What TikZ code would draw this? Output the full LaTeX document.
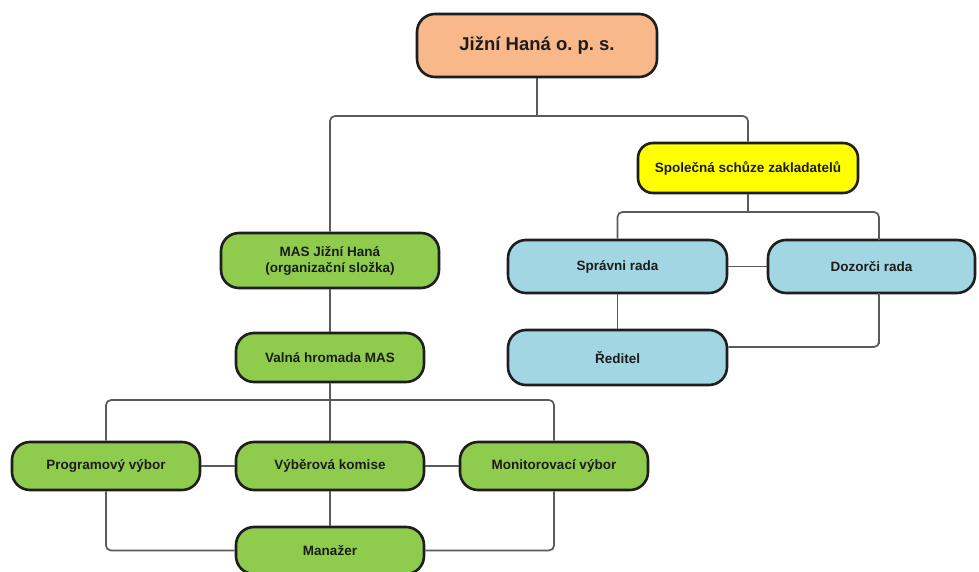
\documentclass[tikz,border=0pt]{standalone}
\usepackage{fontspec}
\setmainfont{Liberation Sans}
\definecolor{orangefill}{HTML}{F9B88A}
\definecolor{yellowfill}{HTML}{FFFF00}
\definecolor{bluefill}{HTML}{A2D6E2}
\definecolor{greenfill}{HTML}{8FCC4E}
\definecolor{boxline}{HTML}{1E1E1E}
\definecolor{conn}{HTML}{5A5A5A}
\definecolor{txt}{HTML}{1C1C1C}
\tikzset{
  box/.style={draw=boxline, line width=2.6pt, rounded corners=18pt, inner sep=2pt,
    align=center, text=txt, font=\fontsize{13.5}{16}\selectfont\bfseries},
  orangebox/.style={box, fill=orangefill},
  yellowbox/.style={box, fill=yellowfill, rounded corners=15pt},
  bluebox/.style={box, fill=bluefill},
  greenbox/.style={box, fill=greenfill},
  link/.style={draw=conn, line width=1.7pt, rounded corners=5pt},
}
\begin{document}
\begin{tikzpicture}[x=1pt,y=-1pt]
\clip (0,0) rectangle (979,572);
\fill[white] (0,0) rectangle (979,572);
\coordinate (j1) at (537,116);
\coordinate (j2) at (748,212);
\coordinate (j3) at (330,400);
\coordinate (d1) at (879,293);
\coordinate (d2) at (879,347);
\coordinate (dtop) at (879,240);
% nodes
\node[orangebox, minimum width=240pt, minimum height=63pt, font=\fontsize{18.5}{22}\selectfont\bfseries] (top) at (537,45.5) {Jižní Haná o.\ p.\ s.};
\node[yellowbox, minimum width=220pt, minimum height=50pt] (spol) at (748,168) {Společná schůze zakladatelů};
\node[bluebox, minimum width=219pt, minimum height=53pt] (spr) at (617.5,266.5) {Správni rada};
\node[bluebox, minimum width=207pt, minimum height=53pt] (doz) at (871.5,266.5) {Dozorči rada};
\node[bluebox, minimum width=219pt, minimum height=55pt] (red) at (617.5,357.5) {Ředitel};
\node[greenbox, minimum width=218pt, minimum height=55pt] (mas) at (330,260.5) {MAS Jižní Haná\\(organizační složka)};
\node[greenbox, minimum width=188pt, minimum height=49pt] (val) at (330,357.5) {Valná hromada MAS};
\node[greenbox, minimum width=188pt, minimum height=48pt] (prog) at (106,466) {Programový výbor};
\node[greenbox, minimum width=188pt, minimum height=48pt] (vyb) at (330,466) {Výběrová komise};
\node[greenbox, minimum width=188pt, minimum height=48pt] (mon) at (554,466) {Monitorovací výbor};
\node[greenbox, minimum width=188pt, minimum height=47pt] (man) at (330,550.5) {Manažer};
% connectors
\path[link] (top.south) -- (j1);
\path[link] (j1) -| (mas.north);
\path[link] (j1) -| (spol.north);
\path[link] (spol.south) -- (j2);
\path[link] (j2) -| (spr.north);
\path[link] (j2) -| (dtop);
\path[link] (spr.east) -- (doz.west);
\path[link] (spr.south) -- (red.north);
\path[link] (d1) |- (d2) -- (red.east |- d2);
\path[link] (mas.south) -- (val.north);
\path[link] (val.south) -- (j3);
\path[link] (j3) -| (prog.north);
\path[link] (j3) -| (mon.north);
\path[link] (j3) -- (vyb.north);
\path[link] (prog.east) -- (vyb.west);
\path[link] (vyb.east) -- (mon.west);
\path[link] (vyb.south) -- (man.north);
\path[link] (prog.south) |- (man.west);
\path[link] (mon.south) |- (man.east);
\end{tikzpicture}
\end{document}
